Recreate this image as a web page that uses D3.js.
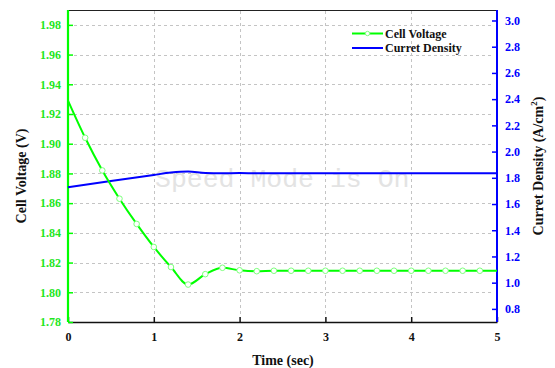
<!DOCTYPE html>
<html>
<head>
<meta charset="utf-8">
<script src="https://cdn.jsdelivr.net/npm/d3@7"></script>
<style>
  html, body { margin: 0; padding: 0; background: #fff; }
  svg { display: block; }
  text { font-family: "Liberation Serif", "Times New Roman", serif; font-weight: bold; }
</style>
</head>
<body>
<svg id="chart" width="555" height="368"></svg>
<script>
// Cell voltage response (left axis)
const voltageTime = [0, 0.2, 0.4, 0.6, 0.8, 1.0, 1.2, 1.4, 1.6, 1.8, 2.0, 2.2, 2.4, 2.6, 2.8, 3.0,
                     3.2, 3.4, 3.6, 3.8, 4.0, 4.2, 4.4, 4.6, 4.8, 5.0];
const cellVoltage = [1.929, 1.904, 1.882, 1.863, 1.846, 1.8305, 1.817, 1.8052, 1.8122, 1.8165, 1.8148,
                     1.8142, 1.8145, 1.8145, 1.8145, 1.8145, 1.8145, 1.8145, 1.8145, 1.8145, 1.8145,
                     1.8145, 1.8145, 1.8145, 1.8145, 1.8145];

// Current density (right axis)
const currentTime = [0, 0.5, 1.0, 1.2, 1.4, 1.6, 1.8, 2.0, 2.2, 3.0, 4.0, 5.0];
const currentDensity = [1.728, 1.775, 1.822, 1.840, 1.848, 1.836, 1.834, 1.837, 1.834, 1.834, 1.834, 1.834];

// Tick values
const timeTicks = [0, 1, 2, 3, 4, 5];
const voltageTicks = [1.78, 1.80, 1.82, 1.84, 1.86, 1.88, 1.90, 1.92, 1.94, 1.96, 1.98];
const currentTicks = [0.8, 1.0, 1.2, 1.4, 1.6, 1.8, 2.0, 2.2, 2.4, 2.6, 2.8, 3.0];

const legendLabels = ["Cell Voltage", "Curret Density"];

const GREEN = "#00ff00", GREEN_TEXT = "#1ee61e", BLUE = "#0000ff";

const svg = d3.select("#chart");
const L = 68, R = 497, T = 10, B = 322;

const x = d3.scaleLinear().domain([0, 5]).range([L, R]);
const yL = d3.scaleLinear().domain([1.78, 1.99]).range([B, T]);
const yR = d3.scaleLinear().domain([0.7, 3.08]).range([B, T]);

// grid
const grid = svg.append("g").attr("stroke", "#c4c4c4").attr("stroke-width", 1)
  .attr("stroke-dasharray", "3,3").attr("fill", "none");
grid.selectAll("line.h").data(voltageTicks.slice(1)).join("line")
  .attr("x1", L + 6).attr("x2", R - 6)
  .attr("y1", d => Math.round(yL(d)) + 0.5).attr("y2", d => Math.round(yL(d)) + 0.5);
grid.selectAll("line.v").data(timeTicks.slice(1, -1)).join("line")
  .attr("y1", T + 1).attr("y2", B - 6)
  .attr("x1", d => Math.round(x(d)) + 0.5).attr("x2", d => Math.round(x(d)) + 0.5);

// watermark
svg.append("text")
  .attr("x", 155).attr("y", 187)
  .style("font-family", "'Liberation Mono', 'Courier New', monospace")
  .style("font-weight", "normal")
  .style("font-size", "26.5px")
  .attr("fill", "#e3e3e3")
  .text("Speed Mode is On");

// frame top
svg.append("line").attr("x1", L).attr("x2", R).attr("y1", T + 0.5).attr("y2", T + 0.5)
  .attr("stroke", "#222").attr("stroke-width", 1.2);

// bottom axis
const xAxis = svg.append("g").attr("transform", `translate(0,${B})`)
  .call(d3.axisBottom(x).tickValues(timeTicks).tickSize(-5).tickSizeOuter(0).tickPadding(10)
    .tickFormat(d3.format("d")));
xAxis.select(".domain").attr("stroke", "#111").attr("stroke-width", 1.5);
xAxis.selectAll(".tick line").attr("stroke", "#111").attr("stroke-width", 1.5);
xAxis.selectAll("text").attr("fill", "#111").style("font-size", "12px")
  .style("font-family", "'Liberation Serif', serif").style("font-weight", "bold");

// left axis
const leftAxis = svg.append("g").attr("transform", `translate(${L},0)`)
  .call(d3.axisLeft(yL).tickValues(voltageTicks).tickSize(-5).tickSizeOuter(0).tickPadding(7)
    .tickFormat(d3.format(".2f")));
leftAxis.select(".domain").attr("stroke", GREEN).attr("stroke-width", 2.2)
  .attr("d", `M0,${B}V${T}`);
leftAxis.selectAll(".tick line").attr("stroke", GREEN).attr("stroke-width", 1.5);
leftAxis.selectAll("text").attr("fill", GREEN_TEXT).style("font-size", "12px")
  .style("font-family", "'Liberation Serif', serif").style("font-weight", "bold");

// right axis
const rightAxis = svg.append("g").attr("transform", `translate(${R},0)`)
  .call(d3.axisRight(yR).tickValues(currentTicks).tickSize(-5).tickSizeOuter(0).tickPadding(8)
    .tickFormat(d3.format(".1f")));
rightAxis.select(".domain").attr("stroke", BLUE).attr("stroke-width", 2)
  .attr("d", `M0,${B}V${T}`);
rightAxis.selectAll(".tick line").attr("stroke", BLUE).attr("stroke-width", 1.5);
rightAxis.selectAll("text").attr("fill", BLUE).style("font-size", "12px")
  .style("font-family", "'Liberation Serif', serif").style("font-weight", "bold");

// series
const vData = voltageTime.map((t, i) => ({ t, v: cellVoltage[i] }));
const cData = currentTime.map((t, i) => ({ t, v: currentDensity[i] }));

svg.append("path").datum(cData)
  .attr("fill", "none").attr("stroke", BLUE).attr("stroke-width", 2)
  .attr("d", d3.line().x(d => x(d.t)).y(d => yR(d.v)).curve(d3.curveMonotoneX));

svg.append("path").datum(vData)
  .attr("fill", "none").attr("stroke", GREEN).attr("stroke-width", 2)
  .attr("d", d3.line().x(d => x(d.t)).y(d => yL(d.v)).curve(d3.curveMonotoneX));

svg.append("g").selectAll("circle")
  .data(vData.filter(d => d.t > 0 && d.t < 5)).join("circle")
  .attr("cx", d => x(d.t)).attr("cy", d => yL(d.v)).attr("r", 2.8)
  .attr("fill", "#fff").attr("stroke", "#7dff7d").attr("stroke-width", 1);

// legend
const legend = svg.append("g");
const legendColors = [GREEN, BLUE];
legendLabels.forEach((lab, i) => {
  const yy = 33.5 + i * 14.5;
  legend.append("line").attr("x1", 352).attr("x2", 383).attr("y1", yy).attr("y2", yy)
    .attr("stroke", legendColors[i]).attr("stroke-width", 2);
  if (i === 0) {
    legend.append("circle").attr("cx", 367.5).attr("cy", yy).attr("r", 2.2)
      .attr("fill", "#fff").attr("stroke", "#7dff7d").attr("stroke-width", 1);
  }
  legend.append("text").attr("x", 385).attr("y", yy + 4).attr("fill", "#111")
    .style("font-size", "12px").text(lab);
});

// axis titles
svg.append("text")
  .attr("transform", "translate(26,176) rotate(-90)")
  .attr("text-anchor", "middle").attr("fill", "#111").style("font-size", "14px")
  .text("Cell Voltage (V)");

svg.append("text")
  .attr("x", 283).attr("y", 365)
  .attr("text-anchor", "middle").attr("fill", "#111").style("font-size", "14px")
  .text("Time (sec)");

const rt = svg.append("text")
  .attr("transform", "translate(543,166) rotate(-90)")
  .attr("text-anchor", "middle").attr("fill", "#111").style("font-size", "14px");
rt.append("tspan").text("Curret Density (A/cm");
rt.append("tspan").attr("dy", -6).style("font-size", "9px").text("2");
rt.append("tspan").attr("dy", 6).text(")");
</script>
</body>
</html>
